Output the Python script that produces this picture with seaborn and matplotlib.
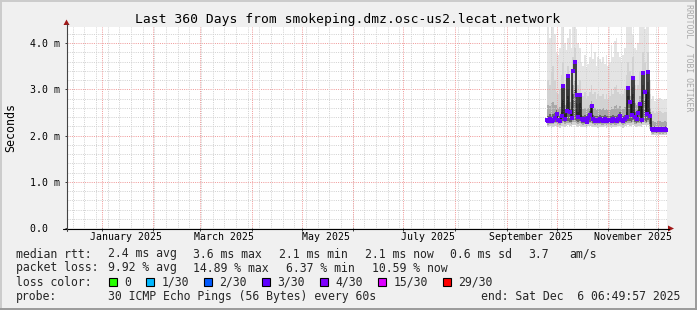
import numpy as np
import pandas as pd
import matplotlib
matplotlib.use("Agg")
import matplotlib.pyplot as plt
import matplotlib.dates as mdates
from matplotlib.patches import Polygon, Rectangle
from matplotlib.lines import Line2D
import seaborn as sns

# ---------------- data (ms, one value per day from 2025-09-25) ----------------
first_day = "2025-09-25 06:49:57"
range_start = "2024-12-11 06:49:57"
range_end = "2025-12-06 06:49:57"

median_ms = [2.34, 2.32, 2.36, 2.31, 2.33, 2.38, 2.46, 2.34, 2.31, 2.42,
             3.08, 2.36, 2.52, 3.28, 2.50, 2.38, 3.40, 3.59, 2.88, 2.40,
             2.87, 2.36, 2.33, 2.35, 2.30, 2.38, 2.45, 2.64, 2.36, 2.32,
             2.34, 2.31, 2.35, 2.33, 2.32, 2.36, 2.31, 2.34, 2.33, 2.31,
             2.35, 2.33, 2.32, 2.36, 2.42, 2.33, 2.31, 2.36, 2.40, 3.02,
             2.72, 2.45, 3.24, 2.40, 2.36, 2.48, 2.69, 2.34, 3.36, 2.95,
             2.46, 3.38, 2.42, 2.14, 2.12, 2.13, 2.11, 2.14, 2.12, 2.13,
             2.12, 2.14, 2.12]

smoke_top = [3.95, 4.35, 4.10, 4.40, 4.40, 4.20, 3.80, 3.75, 3.90, 4.40,
             4.40, 4.00, 3.85, 4.10, 4.30, 3.90, 4.40, 4.40, 4.30, 4.00,
             3.90, 3.60, 3.50, 3.75, 3.45, 3.55, 3.70, 4.00, 3.65, 3.80,
             3.50, 3.70, 3.65, 3.60, 3.70, 3.55, 3.75, 3.50, 3.60, 3.95,
             3.70, 4.05, 4.10, 3.80, 3.70, 3.60, 3.75, 3.90, 4.40, 4.40,
             4.35, 4.40, 4.20, 3.90, 3.85, 4.00, 4.40, 4.35, 4.40, 4.30,
             4.40, 4.40, 3.20, 2.80, 2.85, 2.75, 2.80, 2.78, 2.82, 2.80,
             2.76, 2.80, 2.78]

smoke_p90 = [3.00, 3.20, 3.10, 3.40, 3.50, 3.20, 2.95, 2.90, 3.00, 3.30,
             3.60, 3.10, 3.00, 3.50, 3.20, 3.00, 3.70, 3.90, 3.40, 3.10,
             3.20, 2.90, 2.85, 2.95, 2.80, 2.85, 2.95, 3.10, 2.90, 2.95,
             2.80, 2.90, 2.85, 2.85, 2.90, 2.80, 2.90, 2.80, 2.85, 3.00,
             2.90, 3.05, 3.10, 2.95, 2.90, 2.85, 2.90, 3.00, 3.30, 3.60,
             3.40, 3.30, 3.70, 3.10, 3.00, 3.10, 3.40, 3.20, 3.80, 3.60,
             3.40, 3.80, 2.90, 2.50, 2.52, 2.48, 2.50, 2.50, 2.52, 2.50,
             2.48, 2.50, 2.50]

smoke_p75 = [2.62, 2.66, 2.64, 2.70, 2.72, 2.66, 2.65, 2.60, 2.62, 2.70,
             3.00, 2.66, 2.70, 3.00, 2.72, 2.64, 3.10, 3.20, 2.90, 2.68,
             2.85, 2.62, 2.58, 2.60, 2.56, 2.60, 2.66, 2.75, 2.60, 2.60,
             2.56, 2.58, 2.57, 2.56, 2.60, 2.55, 2.58, 2.55, 2.56, 2.62,
             2.58, 2.63, 2.65, 2.60, 2.64, 2.57, 2.58, 2.62, 2.70, 2.98,
             2.85, 2.75, 3.05, 2.70, 2.66, 2.70, 2.85, 2.68, 3.10, 3.00,
             2.80, 3.15, 2.60, 2.30, 2.32, 2.30, 2.30, 2.31, 2.32, 2.30,
             2.30, 2.31, 2.30]

smoke_p60 = [2.44, 2.43, 2.46, 2.45, 2.46, 2.48, 2.55, 2.44, 2.43, 2.50,
             2.80, 2.47, 2.60, 2.85, 2.58, 2.47, 2.90, 3.00, 2.70, 2.50,
             2.70, 2.45, 2.43, 2.45, 2.41, 2.46, 2.52, 2.62, 2.45, 2.43,
             2.43, 2.42, 2.44, 2.43, 2.43, 2.45, 2.42, 2.43, 2.43, 2.42,
             2.44, 2.43, 2.43, 2.45, 2.50, 2.43, 2.42, 2.45, 2.50, 2.85,
             2.70, 2.55, 2.90, 2.50, 2.46, 2.56, 2.68, 2.45, 2.95, 2.80,
             2.55, 2.95, 2.50, 2.20, 2.19, 2.20, 2.18, 2.20, 2.19, 2.20,
             2.19, 2.20, 2.19]

smoke_p25 = [2.28, 2.27, 2.29, 2.26, 2.28, 2.30, 2.31, 2.28, 2.26, 2.30,
             2.31, 2.29, 2.31, 2.32, 2.30, 2.29, 2.33, 2.34, 2.31, 2.29,
             2.31, 2.28, 2.27, 2.28, 2.25, 2.29, 2.30, 2.31, 2.28, 2.27,
             2.28, 2.26, 2.28, 2.27, 2.27, 2.29, 2.26, 2.28, 2.27, 2.26,
             2.28, 2.27, 2.27, 2.29, 2.30, 2.27, 2.26, 2.29, 2.30, 2.32,
             2.31, 2.30, 2.33, 2.29, 2.28, 2.30, 2.31, 2.28, 2.33, 2.32,
             2.30, 2.33, 2.25, 2.08, 2.07, 2.08, 2.06, 2.08, 2.07, 2.08,
             2.07, 2.08, 2.07]

smoke_p10 = [2.24, 2.23, 2.25, 2.22, 2.24, 2.26, 2.27, 2.24, 2.22, 2.26,
             2.27, 2.25, 2.27, 2.28, 2.26, 2.25, 2.29, 2.30, 2.27, 2.25,
             2.27, 2.24, 2.23, 2.24, 2.21, 2.25, 2.26, 2.27, 2.24, 2.23,
             2.24, 2.22, 2.24, 2.23, 2.23, 2.25, 2.22, 2.24, 2.23, 2.22,
             2.24, 2.23, 2.23, 2.25, 2.26, 2.23, 2.22, 2.25, 2.26, 2.28,
             2.27, 2.26, 2.29, 2.25, 2.24, 2.26, 2.27, 2.24, 2.29, 2.28,
             2.26, 2.29, 2.20, 2.05, 2.04, 2.05, 2.03, 2.05, 2.04, 2.05,
             2.04, 2.05, 2.04]

smoke_low = [2.19, 2.18, 2.20, 2.17, 2.19, 2.20, 2.21, 2.19, 2.17, 2.20,
             2.21, 2.19, 2.21, 2.22, 2.20, 2.19, 2.22, 2.23, 2.21, 2.19,
             2.21, 2.19, 2.18, 2.19, 2.16, 2.20, 2.20, 2.21, 2.19, 2.18,
             2.19, 2.17, 2.19, 2.18, 2.18, 2.20, 2.17, 2.19, 2.18, 2.17,
             2.19, 2.18, 2.18, 2.20, 2.20, 2.18, 2.17, 2.20, 2.20, 2.22,
             2.21, 2.20, 2.22, 2.20, 2.19, 2.20, 2.21, 2.19, 2.22, 2.22,
             2.20, 2.22, 2.15, 2.02, 2.01, 2.02, 2.00, 2.02, 2.01, 2.02,
             2.01, 2.02, 2.01]

month_labels = ["January 2025", "March 2025", "May 2025", "July 2025",
                "September 2025", "November 2025"]
month_label_dates = ["2025-01-16", "2025-03-16", "2025-05-16", "2025-07-16",
                     "2025-09-16", "2025-11-16"]
y_ticks = [0, 1, 2, 3, 4]
y_tick_labels = ["0.0  ", "1.0 m", "2.0 m", "3.0 m", "4.0 m"]

loss_labels = ["0", "1/30", "2/30", "3/30", "4/30", "15/30", "29/30"]
loss_colors = ["#26ff00", "#00b8ff", "#0059ff", "#5e00ff", "#7e00ff",
               "#dd00ff", "#ff0000"]

rtt_stats = ["2.4 ms avg", "3.6 ms max", "2.1 ms min", "2.1 ms now",
             "0.6 ms sd", "3.7", "am/s"]
loss_stats = ["9.92 % avg", "14.89 % max", "6.37 % min", "10.59 % now"]
probe_text = "30 ICMP Echo Pings (56 Bytes) every 60s"
end_text = "end: Sat Dec  6 06:49:57 2025"
title = "Last 360 Days from smokeping.dmz.osc-us2.lecat.network"

# ---------------- styling ----------------
sns.set_theme(style="white")
plt.rcParams["font.family"] = ["DejaVu Sans Mono", "DejaVu Sans"]

W, H = 697, 310
fig = plt.figure(figsize=(W / 100, H / 100), dpi=100, facecolor="#f0f0f0")


def fx(x):
    return x / W


def fy(y):
    return 1 - y / H


ax = fig.add_axes([fx(66.5), fy(228), 600 / W, 201 / H])
ax.set_facecolor("white")
for s in ax.spines.values():
    s.set_visible(False)

t0 = mdates.date2num(pd.Timestamp(range_start))
t1 = mdates.date2num(pd.Timestamp(range_end))
ax.set_xlim(t0, t1)
ax.set_ylim(0, 4.346)

dates = pd.date_range(first_day, periods=len(median_ms), freq="D")
xn = mdates.date2num(dates)

# smoke
ax.fill_between(xn, smoke_low, smoke_top, step="mid", color="#e4e4e4", lw=0, zorder=1)
ax.fill_between(xn, smoke_low, smoke_p90, step="mid", color="#d2d2d2", lw=0, zorder=1)
ax.fill_between(xn, smoke_p10, smoke_p75, step="mid", color="#a8a8a8", lw=0, zorder=1)
ax.fill_between(xn, smoke_p25, smoke_p60, step="mid", color="#666666", lw=0, zorder=1)

# grid
minor_y = [v / 5 for v in range(1, 22) if v % 5 != 0]
for v in minor_y:
    ax.axhline(v, color="#d2d2d2", lw=0.72, ls=(0, (1, 1.2)), zorder=2)
for v in [1, 2, 3, 4]:
    ax.axhline(v, color="#f09a9a", lw=0.72, ls=(0, (1, 1.2)), zorder=2)
weeks = pd.date_range(range_start, range_end, freq="W-SUN").normalize()
for d in weeks:
    ax.axvline(mdates.date2num(d), color="#d2d2d2", lw=0.72, ls=(0, (1, 1.2)), zorder=2)
months = pd.date_range(range_start, range_end, freq="MS")
for d in months:
    ax.axvline(mdates.date2num(d), color="#f09a9a", lw=0.72, ls=(0, (1, 1.2)), zorder=2)

# median line (dark) and loss-coloured median points
df = pd.DataFrame({"t": dates, "median": median_ms})
sns.lineplot(data=df, x="t", y="median", ax=ax, color="#151515", lw=1.1,
             drawstyle="steps-mid", zorder=3)
ax.scatter(xn, median_ms, marker="s", s=5, color="#6a00ff", linewidths=0, zorder=4)

# ticks
ax.set_xticks(mdates.date2num(pd.to_datetime(month_label_dates)))
ax.set_xticklabels(month_labels)
ax.set_yticks(y_ticks)
ax.set_yticklabels(y_tick_labels)
ax.set_xlabel("")
ax.set_ylabel("")
ax.tick_params(axis="x", length=0, pad=3.0, labelsize=7.1, colors="black")
ax.tick_params(axis="y", length=1.6, width=0.72, pad=3.2, labelsize=7.1,
               colors="#404040", labelcolor="black", left=True)
ax.set_xticks(mdates.date2num(months), minor=True)
ax.tick_params(axis="x", which="minor", length=2.2, width=0.72, color="#404040", bottom=True)

# axis lines with arrows
fig.add_artist(Line2D([fx(63), fx(669)], [fy(228.5), fy(228.5)], color="black", lw=0.8))
fig.add_artist(Line2D([fx(66.5), fx(66.5)], [fy(231), fy(24)], color="#444444", lw=0.8))
fig.add_artist(Polygon([(fx(668), fy(225.5)), (fx(668), fy(231.5)), (fx(674), fy(228.5))],
                       closed=True, color="#a01818", lw=0))
fig.add_artist(Polygon([(fx(63.5), fy(25)), (fx(69.5), fy(25)), (fx(66.5), fy(19.5))],
                       closed=True, color="#a01818", lw=0))

# frame
fig.add_artist(Line2D([0, 1], [fy(0.5), fy(0.5)], color="#cbcbcb", lw=1.4))
fig.add_artist(Line2D([fx(0.5), fx(0.5)], [0, 1], color="#cbcbcb", lw=1.4))
fig.add_artist(Line2D([0, 1], [fy(309), fy(309)], color="#9a9a9a", lw=1.4))
fig.add_artist(Line2D([fx(696), fx(696)], [0, 1], color="#9a9a9a", lw=1.4))

# texts
fig.text(fx(347.5), fy(19.5), title, ha="center", va="center", fontsize=9.4, color="black")
fig.text(fx(10.5), fy(128), "Seconds", rotation=90, ha="center", va="center",
         fontsize=8.4, color="black")
fig.text(fx(688.5), fy(4), "RRDTOOL / TOBI OETIKER", rotation=270, ha="center",
         va="top", fontsize=5.9, color="#aaaaaa")

LF = 8.3
r1, r2, r3, r4 = 254, 268, 282, 296.3
fig.text(fx(16), fy(r1), "median rtt:", ha="left", va="center", fontsize=LF)
for xs, s in zip([107.5, 193.3, 279, 365, 450, 528, 569], rtt_stats):
    fig.text(fx(xs), fy(r1), s, ha="left", va="center", fontsize=LF)
fig.text(fx(16), fy(r2), "packet loss:", ha="left", va="center", fontsize=LF)
for xs, s in zip([107.5, 193.3, 286.0, 371.5], loss_stats):
    fig.text(fx(xs), fy(r2), s, ha="left", va="center", fontsize=LF)
fig.text(fx(16), fy(r3), "loss color:", ha="left", va="center", fontsize=LF)
for xs, lab, col in zip([108.5, 145.8, 203.6, 262.2, 320, 377.8, 443.1], loss_labels, loss_colors):
    fig.add_artist(Rectangle((fx(xs), fy(r3 + 4)), 8 / W, 8 / H, facecolor=col,
                             edgecolor="black", lw=0.8))
    fig.text(fx(xs + 15.5), fy(r3), lab, ha="left", va="center", fontsize=LF)
fig.text(fx(16), fy(r4), "probe:", ha="left", va="center", fontsize=LF)
fig.text(fx(107.5), fy(r4), probe_text, ha="left", va="center", fontsize=LF)
fig.text(fx(680), fy(r4), end_text, ha="right", va="center", fontsize=LF)

fig.savefig("out.png", dpi=100, facecolor=fig.get_facecolor())
